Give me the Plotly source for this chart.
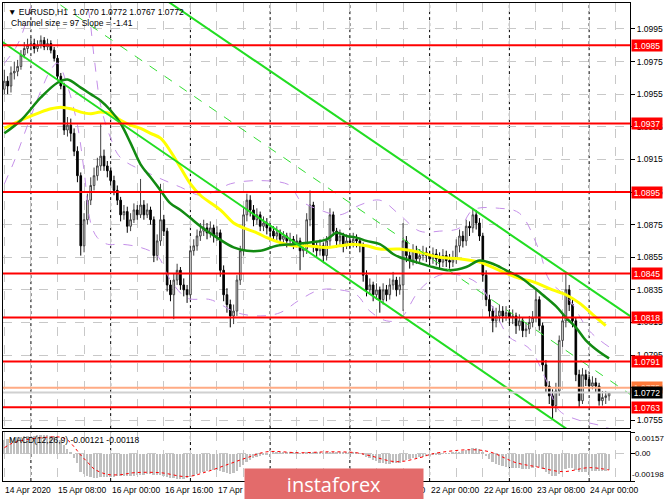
import plotly.graph_objects as go

# ---------------- data ----------------
bars = list(range(183))
first_open = 1.0958
close = [1.0963, 1.0960, 1.0968, 1.0969, 1.0972, 1.0979, 1.0983, 1.0985, 1.0986, 1.0983,
         1.0985, 1.0988, 1.0984, 1.0986, 1.0982, 1.0977, 1.0966, 1.0960, 1.0933, 1.0936,
         1.0931, 1.0920, 1.0905, 1.0862, 1.0878, 1.0890, 1.0899, 1.0905, 1.0911, 1.0917,
         1.0911, 1.0908, 1.0902, 1.0896, 1.0890, 1.0881, 1.0883, 1.0874, 1.0878, 1.0884,
         1.0881, 1.0887, 1.0881, 1.0884, 1.0878, 1.0856, 1.0865, 1.0878, 1.0871, 1.0838,
         1.0832, 1.0841, 1.0847, 1.0838, 1.0835, 1.0832, 1.0859, 1.0862, 1.0868, 1.0871,
         1.0873, 1.0870, 1.0873, 1.0868, 1.0870, 1.0847, 1.0832, 1.0826, 1.0819, 1.0822,
         1.0841, 1.0859, 1.0881, 1.0890, 1.0884, 1.0878, 1.0881, 1.0874, 1.0876, 1.0873,
         1.0871, 1.0868, 1.0870, 1.0866, 1.0868, 1.0865, 1.0866, 1.0864, 1.0865, 1.0859,
         1.0860, 1.0878, 1.0887, 1.0862, 1.0859, 1.0862, 1.0856, 1.0865, 1.0881, 1.0871,
         1.0865, 1.0868, 1.0862, 1.0865, 1.0864, 1.0866, 1.0865, 1.0862, 1.0844, 1.0835,
         1.0838, 1.0832, 1.0835, 1.0829, 1.0835, 1.0832, 1.0838, 1.0841, 1.0835, 1.0838,
         1.0865, 1.0856, 1.0853, 1.0859, 1.0854, 1.0856, 1.0858, 1.0856, 1.0854, 1.0857,
         1.0854, 1.0852, 1.0856, 1.0853, 1.0852, 1.0854, 1.0862, 1.0868, 1.0865, 1.0874,
         1.0873, 1.0881, 1.0876, 1.0868, 1.0844, 1.0829, 1.0822, 1.0816, 1.0819, 1.0822,
         1.0819, 1.0821, 1.0818, 1.0819, 1.0813, 1.0816, 1.0810, 1.0811, 1.0815, 1.0818,
         1.0829, 1.0813, 1.0789, 1.0776, 1.0770, 1.0764, 1.0773, 1.0804, 1.0816, 1.0835,
         1.0826, 1.0816, 1.0783, 1.0767, 1.0783, 1.0780, 1.0776, 1.0778, 1.0776, 1.0767,
         1.0769, 1.0770, 1.0772]
high = [1.0970, 1.0966, 1.0972, 1.0975, 1.0976, 1.0982, 1.0987, 1.0989, 1.0990, 1.0989,
        1.0988, 1.0991, 1.0990, 1.0989, 1.0988, 1.0984, 1.0979, 1.0968, 1.0962, 1.0941,
        1.0940, 1.0934, 1.0923, 1.0907, 1.0882, 1.0894, 1.0904, 1.0910, 1.0916, 1.0937,
        1.0921, 1.0914, 1.0910, 1.0905, 1.0899, 1.0892, 1.0887, 1.0886, 1.0882, 1.0888,
        1.0887, 1.0903, 1.0890, 1.0888, 1.0886, 1.0880, 1.0869, 1.0900, 1.0881, 1.0873,
        1.0841, 1.0845, 1.0851, 1.0849, 1.0842, 1.0838, 1.0862, 1.0866, 1.0872, 1.0876,
        1.0878, 1.0876, 1.0877, 1.0875, 1.0874, 1.0872, 1.0850, 1.0836, 1.0829, 1.0826,
        1.0844, 1.0862, 1.0885, 1.0894, 1.0893, 1.0887, 1.0885, 1.0883, 1.0880, 1.0879,
        1.0876, 1.0874, 1.0874, 1.0872, 1.0871, 1.0870, 1.0870, 1.0868, 1.0869, 1.0867,
        1.0864, 1.0882, 1.0896, 1.0889, 1.0865, 1.0866, 1.0864, 1.0868, 1.0885, 1.0883,
        1.0873, 1.0872, 1.0870, 1.0869, 1.0868, 1.0870, 1.0869, 1.0867, 1.0864, 1.0847,
        1.0842, 1.0840, 1.0839, 1.0837, 1.0839, 1.0838, 1.0842, 1.0846, 1.0843, 1.0843,
        1.0876, 1.0868, 1.0859, 1.0863, 1.0862, 1.0860, 1.0862, 1.0861, 1.0859, 1.0861,
        1.0860, 1.0858, 1.0860, 1.0859, 1.0857, 1.0859, 1.0866, 1.0872, 1.0871, 1.0878,
        1.0877, 1.0885, 1.0884, 1.0879, 1.0870, 1.0847, 1.0832, 1.0825, 1.0824, 1.0826,
        1.0825, 1.0825, 1.0823, 1.0823, 1.0821, 1.0820, 1.0818, 1.0815, 1.0819, 1.0822,
        1.0835, 1.0831, 1.0815, 1.0792, 1.0779, 1.0774, 1.0778, 1.0807, 1.0820, 1.0846,
        1.0838, 1.0829, 1.0818, 1.0786, 1.0787, 1.0786, 1.0783, 1.0782, 1.0781, 1.0778,
        1.0773, 1.0773, 1.0772]
low = [1.0955, 1.0955, 1.0956, 1.0964, 1.0966, 1.0970, 1.0977, 1.0980, 1.0982, 1.0980,
       1.0981, 1.0983, 1.0982, 1.0982, 1.0980, 1.0975, 1.0964, 1.0958, 1.0930, 1.0929,
       1.0926, 1.0917, 1.0901, 1.0856, 1.0858, 1.0875, 1.0887, 1.0896, 1.0902, 1.0908,
       1.0908, 1.0904, 1.0899, 1.0893, 1.0887, 1.0877, 1.0878, 1.0870, 1.0871, 1.0876,
       1.0878, 1.0879, 1.0878, 1.0879, 1.0875, 1.0852, 1.0853, 1.0862, 1.0868, 1.0834,
       1.0828, 1.0817, 1.0838, 1.0835, 1.0831, 1.0827, 1.0829, 1.0856, 1.0859, 1.0865,
       1.0868, 1.0866, 1.0867, 1.0864, 1.0865, 1.0843, 1.0828, 1.0821, 1.0812, 1.0814,
       1.0819, 1.0838, 1.0856, 1.0877, 1.0880, 1.0874, 1.0875, 1.0871, 1.0871, 1.0869,
       1.0867, 1.0865, 1.0865, 1.0862, 1.0863, 1.0861, 1.0862, 1.0860, 1.0861, 1.0847,
       1.0855, 1.0857, 1.0874, 1.0858, 1.0855, 1.0856, 1.0852, 1.0853, 1.0862, 1.0868,
       1.0861, 1.0862, 1.0858, 1.0860, 1.0860, 1.0861, 1.0861, 1.0858, 1.0840, 1.0831,
       1.0832, 1.0828, 1.0829, 1.0821, 1.0826, 1.0828, 1.0829, 1.0835, 1.0831, 1.0832,
       1.0822, 1.0852, 1.0848, 1.0850, 1.0851, 1.0851, 1.0853, 1.0852, 1.0850, 1.0851,
       1.0850, 1.0848, 1.0849, 1.0849, 1.0848, 1.0849, 1.0851, 1.0858, 1.0861, 1.0862,
       1.0868, 1.0870, 1.0872, 1.0865, 1.0840, 1.0825, 1.0818, 1.0809, 1.0812, 1.0815,
       1.0815, 1.0816, 1.0814, 1.0814, 1.0808, 1.0810, 1.0806, 1.0806, 1.0808, 1.0812,
       1.0815, 1.0810, 1.0785, 1.0772, 1.0765, 1.0756, 1.0760, 1.0770, 1.0800, 1.0812,
       1.0822, 1.0812, 1.0779, 1.0763, 1.0765, 1.0776, 1.0772, 1.0774, 1.0772, 1.0764,
       1.0764, 1.0765, 1.0767]
open_ = [first_open] + close[:-1]

# moving averages (bar index, price)
ma_green_x = [0, 5, 11, 16, 19, 23, 26, 29, 32, 35, 38, 41, 44, 47, 50, 53, 56, 59, 64, 69,
              73, 77, 82, 87, 92, 97, 100, 103, 106, 109, 113, 117, 119, 124, 129, 134, 139, 143, 147, 151,
              155, 159, 162, 166, 169, 172, 175, 179, 182]
ma_green_y = [1.0931, 1.0939, 1.0953, 1.0962, 1.0964, 1.0959, 1.0955, 1.0951, 1.0945, 1.0937,
              1.0925, 1.0912, 1.0904, 1.0896, 1.0888, 1.0884, 1.0879, 1.0874, 1.0867, 1.0861,
              1.0859, 1.0859, 1.0862, 1.0863, 1.0864, 1.0866, 1.0870, 1.0868, 1.0867, 1.0865,
              1.0863, 1.0857, 1.0855, 1.0852, 1.0849, 1.0847, 1.0849, 1.0853, 1.0851, 1.0847,
              1.0843, 1.0837, 1.0832, 1.0825, 1.0818, 1.0812, 1.0804, 1.0797, 1.0793]
ma_yellow_x = [0, 5, 11, 14, 17, 20, 23, 26, 29, 32, 35, 38, 41, 44, 47, 50, 53, 56, 59, 65,
               69, 72, 76, 79, 83, 87, 91, 97, 101, 105, 109, 113, 119, 125, 131, 137, 143, 149, 155, 159,
               165, 169, 173, 177, 181]
ma_yellow_y = [1.0934, 1.0939, 1.0944, 1.0946, 1.0947, 1.0946, 1.0944, 1.0943, 1.0944, 1.0943,
               1.0939, 1.0936, 1.0934, 1.0931, 1.0928, 1.0920, 1.0910, 1.0900, 1.0893, 1.0884,
               1.0876, 1.0873, 1.0870, 1.0867, 1.0864, 1.0862, 1.0862, 1.0861, 1.0862, 1.0863,
               1.0862, 1.0860, 1.0860, 1.0858, 1.0855, 1.0854, 1.0852, 1.0847, 1.0842, 1.0840,
               1.0835, 1.0832, 1.0827, 1.0820, 1.0813]
band_up_x = [0, 3, 5, 8, 10, 23, 25, 27, 29, 32, 35, 44, 53, 59, 64, 68, 77, 86, 89, 95,
             101, 107, 113, 119, 125, 131, 137, 141, 149, 155, 161, 164, 170, 176, 182]
band_up_y = [1.0974, 1.0982, 1.0990, 1.1009, 1.1018, 1.1018, 1.1009, 1.0978, 1.0948, 1.0928,
             1.0916, 1.0906, 1.0898, 1.0893, 1.0896, 1.0900, 1.0902, 1.0899, 1.0890, 1.0884,
             1.0881, 1.0887, 1.0890, 1.0881, 1.0871, 1.0871, 1.0873, 1.0884, 1.0885, 1.0882,
             1.0859, 1.0841, 1.0829, 1.0810, 1.0800]
band_lo_x = [0, 3, 7, 11, 14, 16, 19, 22, 24, 26, 28, 31, 35, 41, 46, 50, 55, 62, 70, 77,
             83, 89, 95, 101, 106, 110, 115, 119, 125, 131, 137, 143, 148, 152, 158, 163, 167, 173, 179, 182]
band_lo_y = [1.0900, 1.0914, 1.0936, 1.0957, 1.0970, 1.0974, 1.0960, 1.0936, 1.0908, 1.0876,
             1.0867, 1.0863, 1.0863, 1.0861, 1.0856, 1.0841, 1.0830, 1.0829, 1.0821, 1.0819,
             1.0821, 1.0829, 1.0835, 1.0835, 1.0832, 1.0822, 1.0816, 1.0817, 1.0835, 1.0844,
             1.0844, 1.0838, 1.0820, 1.0806, 1.0799, 1.0780, 1.0761, 1.0755, 1.0752, 1.0750]

# regression channel (two anchor bars)
channel_x = [-1, 189]
channel_upper = [1.10815, 1.08180]
channel_lower = [1.09876, 1.07221]
channel_mid = [1.10346, 1.07700]

# support / resistance levels
levels = [1.0985, 1.0937, 1.0895, 1.0845, 1.0818, 1.0791, 1.0763]
level_orange = 1.0775
bid_price = 1.0772
price_ticks = [1.0755, 1.0775, 1.0795, 1.0815, 1.0835, 1.0855, 1.0875, 1.0895,
               1.0915, 1.0935, 1.0955, 1.0975, 1.0995]

# MACD (units of 1e-5)
macd_hist = [100, 105, 110, 115, 118, 122, 125, 128, 130, 131,
             132, 133, 133, 132, 130, 128, 120, 100, 60, 30,
             5, -30, -70, -130, -150, -160, -170, -175, -175, -172,
             -170, -172, -170, -168, -166, -165, -165, -163, -162, -160,
             -158, -155, -152, -150, -150, -155, -158, -158, -160, -168,
             -175, -180, -182, -182, -182, -180, -170, -160, -150, -140,
             -130, -125, -120, -118, -118, -125, -135, -140, -145, -140,
             -125, -100, -80, -60, -45, -35, -25, -18, -10, -5,
             0, 5, 8, 10, 10, 8, 8, 6, 5, 3,
             4, 10, 15, 10, 8, 6, 4, 8, 15, 15,
             12, 12, 10, 10, 8, 8, 6, 4, -10, -25,
             -35, -45, -55, -65, -70, -72, -72, -70, -70, -68,
             -50, -45, -40, -35, -30, -28, -25, -20, -15, -10,
             -5, -3, 0, 2, 3, 5, 10, 15, 18, 25,
             30, 38, 40, 35, 15, -15, -40, -60, -75, -85,
             -90, -95, -100, -102, -105, -105, -108, -110, -108, -105,
             -98, -100, -115, -130, -145, -160, -160, -150, -135, -115,
             -105, -105, -120, -135, -135, -132, -130, -128, -126, -128,
             -125, -123, -121]
signal_x = [0, 2, 5, 11, 17, 19, 21, 23, 25, 27, 31, 35, 39, 47, 55, 61, 67, 73, 79, 89,
            98, 106, 110, 118, 125, 129, 140, 146, 154, 160, 168, 176, 182]
signal_y = [43, 72, 94, 116, 120, 100, 50, -10, -60, -110, -150, -152, -138, -138, -166, -130, -80, -29, 14, 7,
            14, 7, -14, -58, -29, 0, 29, 14, -65, -94, -130, -101, -118]
macd_range = [-0.00198, 0.00157]

date_ticks = [0, 16, 32, 48, 64, 80, 96, 112, 128, 144, 160, 176]
date_labels = ["14 Apr 2020", "15 Apr 08:00", "16 Apr 00:00", "16 Apr 16:00", "17 Apr 08:00",
               "20 Apr 00:00", "20 Apr 16:00", "21 Apr 08:00", "22 Apr 00:00", "22 Apr 16:00",
               "23 Apr 08:00", "24 Apr 00:00"]
day_starts = [8, 32, 56, 80, 104, 128, 152, 176]
grid_bars = list(range(0, 189, 8))

# ---------------- figure ----------------
FONT = "Liberation Sans, Arial, sans-serif"
fig = go.Figure()

fig.add_trace(go.Candlestick(
    x=bars, open=open_, high=high, low=low, close=close,
    increasing=dict(line=dict(color="#404040", width=1), fillcolor="white"),
    decreasing=dict(line=dict(color="black", width=1), fillcolor="black"),
    whiskerwidth=0, xaxis="x", yaxis="y", showlegend=False, hoverinfo="skip"))

band_style = dict(color="#c48fe8", width=1, dash="dash")
fig.add_trace(go.Scatter(x=band_up_x, y=band_up_y, mode="lines", line=dict(shape="spline", **band_style),
                         xaxis="x", yaxis="y", showlegend=False, hoverinfo="skip"))
fig.add_trace(go.Scatter(x=band_lo_x, y=band_lo_y, mode="lines", line=dict(shape="spline", **band_style),
                         xaxis="x", yaxis="y", showlegend=False, hoverinfo="skip"))
fig.add_trace(go.Scatter(x=ma_yellow_x, y=ma_yellow_y, mode="lines",
                         line=dict(color="#ffff00", width=3, shape="spline"),
                         xaxis="x", yaxis="y", showlegend=False, hoverinfo="skip"))
fig.add_trace(go.Scatter(x=ma_green_x, y=ma_green_y, mode="lines",
                         line=dict(color="#128a12", width=2.5, shape="spline"),
                         xaxis="x", yaxis="y", showlegend=False, hoverinfo="skip"))
fig.add_trace(go.Scatter(x=channel_x, y=channel_mid, mode="lines",
                         line=dict(color="#33dd33", width=1, dash="dash"),
                         xaxis="x", yaxis="y", showlegend=False, hoverinfo="skip"))
for ch in (channel_upper, channel_lower):
    fig.add_trace(go.Scatter(x=channel_x, y=ch, mode="lines",
                             line=dict(color="#22dd22", width=2),
                             xaxis="x", yaxis="y", showlegend=False, hoverinfo="skip"))

# MACD
fig.add_trace(go.Bar(x=bars, y=[v * 1e-5 for v in macd_hist], width=0.55,
                     marker=dict(color="#c0c0c0", line=dict(width=0)),
                     xaxis="x2", yaxis="y2", showlegend=False, hoverinfo="skip"))
fig.add_trace(go.Scatter(x=signal_x, y=[v * 1e-5 for v in signal_y], mode="lines",
                         line=dict(color="#ff0000", width=1, dash="dot", shape="spline"),
                         xaxis="x2", yaxis="y2", showlegend=False, hoverinfo="skip"))

shapes = []
for d in day_starts:
    for yr in ("y domain", "y2 domain"):
        shapes.append(dict(type="line", xref="x", yref=yr, x0=d, x1=d, y0=0, y1=1,
                           line=dict(color="black", width=1, dash="dot"), layer="below"))
shapes.append(dict(type="line", xref="x domain", yref="y", x0=0, x1=1, y0=bid_price, y1=bid_price,
                   line=dict(color="#d0d0d0", width=2), layer="above"))
shapes.append(dict(type="line", xref="x domain", yref="y", x0=0, x1=1, y0=level_orange, y1=level_orange,
                   line=dict(color="#ffab85", width=2), layer="above"))
for lv in levels:
    shapes.append(dict(type="line", xref="x domain", yref="y", x0=0, x1=1, y0=lv, y1=lv,
                       line=dict(color="#ff0000", width=2), layer="above"))

ann = []
last_o, last_h, last_l, last_c = open_[-1], high[-1], low[-1], close[-1]
ann.append(dict(xref="paper", yref="paper", x=0, y=1, xanchor="left", yanchor="top", xshift=3, yshift=-2,
                showarrow=False, font=dict(family=FONT, size=8.5, color="black"),
                text=f"▼ EURUSD,H1  {last_o:.4f} {last_h:.4f} {last_l:.4f} {last_c:.4f}"))
ann.append(dict(xref="paper", yref="paper", x=0, y=1, xanchor="left", yanchor="top", xshift=6, yshift=-13,
                showarrow=False, font=dict(family=FONT, size=8.5, color="black"),
                text="Channel size = 97 Slope = -1.41"))
ann.append(dict(xref="paper", yref="y2 domain", x=0, y=1, xanchor="left", yanchor="top", xshift=4, yshift=-1,
                showarrow=False, font=dict(family=FONT, size=8.5, color="black"),
                text=f"MACD(12,26,9) {macd_hist[-1] * 1e-5:.5f} {signal_y[-1] * 1e-5:.5f}"))
for pos, anc, val, shift in ((macd_range[1], "top", macd_range[1], 3), (0, "middle", 0, 3),
                             (macd_range[0], "bottom", macd_range[0], 0)):
    txt = "0.00" if val == 0 else f"{val:.5f}"
    ann.append(dict(xref="paper", yref="y2", x=1, y=pos, xanchor="left", yanchor=anc, xshift=shift,
                    showarrow=False, font=dict(family=FONT, size=8, color="black"), text=txt))
for t, lab in zip(date_ticks, date_labels):
    ann.append(dict(xref="x2", yref="paper", x=t, y=0, xanchor="left", yanchor="top", xshift=-1, yshift=-2,
                    showarrow=False, font=dict(family=FONT, size=8.5, color="black"), text=lab))
for lv in levels:
    ann.append(dict(xref="paper", yref="y", x=1, y=lv, xanchor="left", yanchor="middle", xshift=1,
                    showarrow=False, bgcolor="#ff0000", borderpad=0.5, width=29,
                    font=dict(family=FONT, size=8.5, color="white"), text=f"{lv:.4f}"))
ann.append(dict(xref="paper", yref="y", x=1, y=level_orange, xanchor="left", yanchor="middle", xshift=1,
                showarrow=False, bgcolor="#ff7a3a", borderpad=0.5, width=29,
                font=dict(family=FONT, size=8.5, color="#ffd0b0"), text=f"{level_orange:.4f}"))
ann.append(dict(xref="paper", yref="y", x=1, y=bid_price, xanchor="left", yanchor="middle", xshift=1,
                showarrow=False, bgcolor="black", borderpad=0.5, width=29,
                font=dict(family=FONT, size=8.5, color="white"), text=f"{bid_price:.4f}"))
# watermark
ann.append(dict(xref="paper", yref="paper", x=0.528, y=-0.0063, xanchor="center", yanchor="middle",
                showarrow=False, bgcolor="#e36b6b", width=178, height=31, borderpad=0,
                font=dict(family="Open Sans, sans-serif", size=20, color="white"), text="instaforex"))

axis_common = dict(showline=True, linecolor="black", linewidth=1, mirror=True, zeroline=False)
fig.update_layout(
    width=665, height=499, margin=dict(l=2, r=34, t=2, b=18),
    paper_bgcolor="white", plot_bgcolor="white", showlegend=False,
    xaxis=dict(domain=[0, 1], anchor="y", range=[-0.4, 188.3], tickvals=grid_bars, showticklabels=False,
               ticks="", showgrid=True, gridcolor="#c8c8c8", griddash="dash", gridwidth=1,
               rangeslider=dict(visible=False), **axis_common),
    yaxis=dict(domain=[0.1106, 1], anchor="x", side="right", range=[1.07502, 1.10109],
               tickvals=price_ticks, tickformat=".4f", ticks="outside", ticklen=4, tickcolor="black",
               tickfont=dict(family=FONT, size=8.5, color="black"),
               showgrid=True, gridcolor="#c8c8c8", griddash="dash", gridwidth=1, **axis_common),
    xaxis2=dict(domain=[0, 1], anchor="y2", range=[-0.4, 188.3], matches="x", tickvals=grid_bars,
                showticklabels=False, ticks="", showgrid=True, gridcolor="#c8c8c8", griddash="dash",
                gridwidth=1, **axis_common),
    yaxis2=dict(domain=[0, 0.1023], anchor="x2", side="right", range=macd_range,
                tickvals=[macd_range[0], 0, macd_range[1]], showticklabels=False, ticks="outside",
                ticklen=4, tickcolor="black", showgrid=True, gridcolor="#c8c8c8", griddash="dash",
                gridwidth=1, **axis_common),
    shapes=shapes, annotations=ann, bargap=0,
)
fig.update_xaxes(rangeslider_visible=False)
fig.write_html("out.html", config={"displayModeBar": False},
               post_script="document.body.style.margin='0px';document.body.style.padding='0px';"
                           "document.body.style.overflow='hidden';")
